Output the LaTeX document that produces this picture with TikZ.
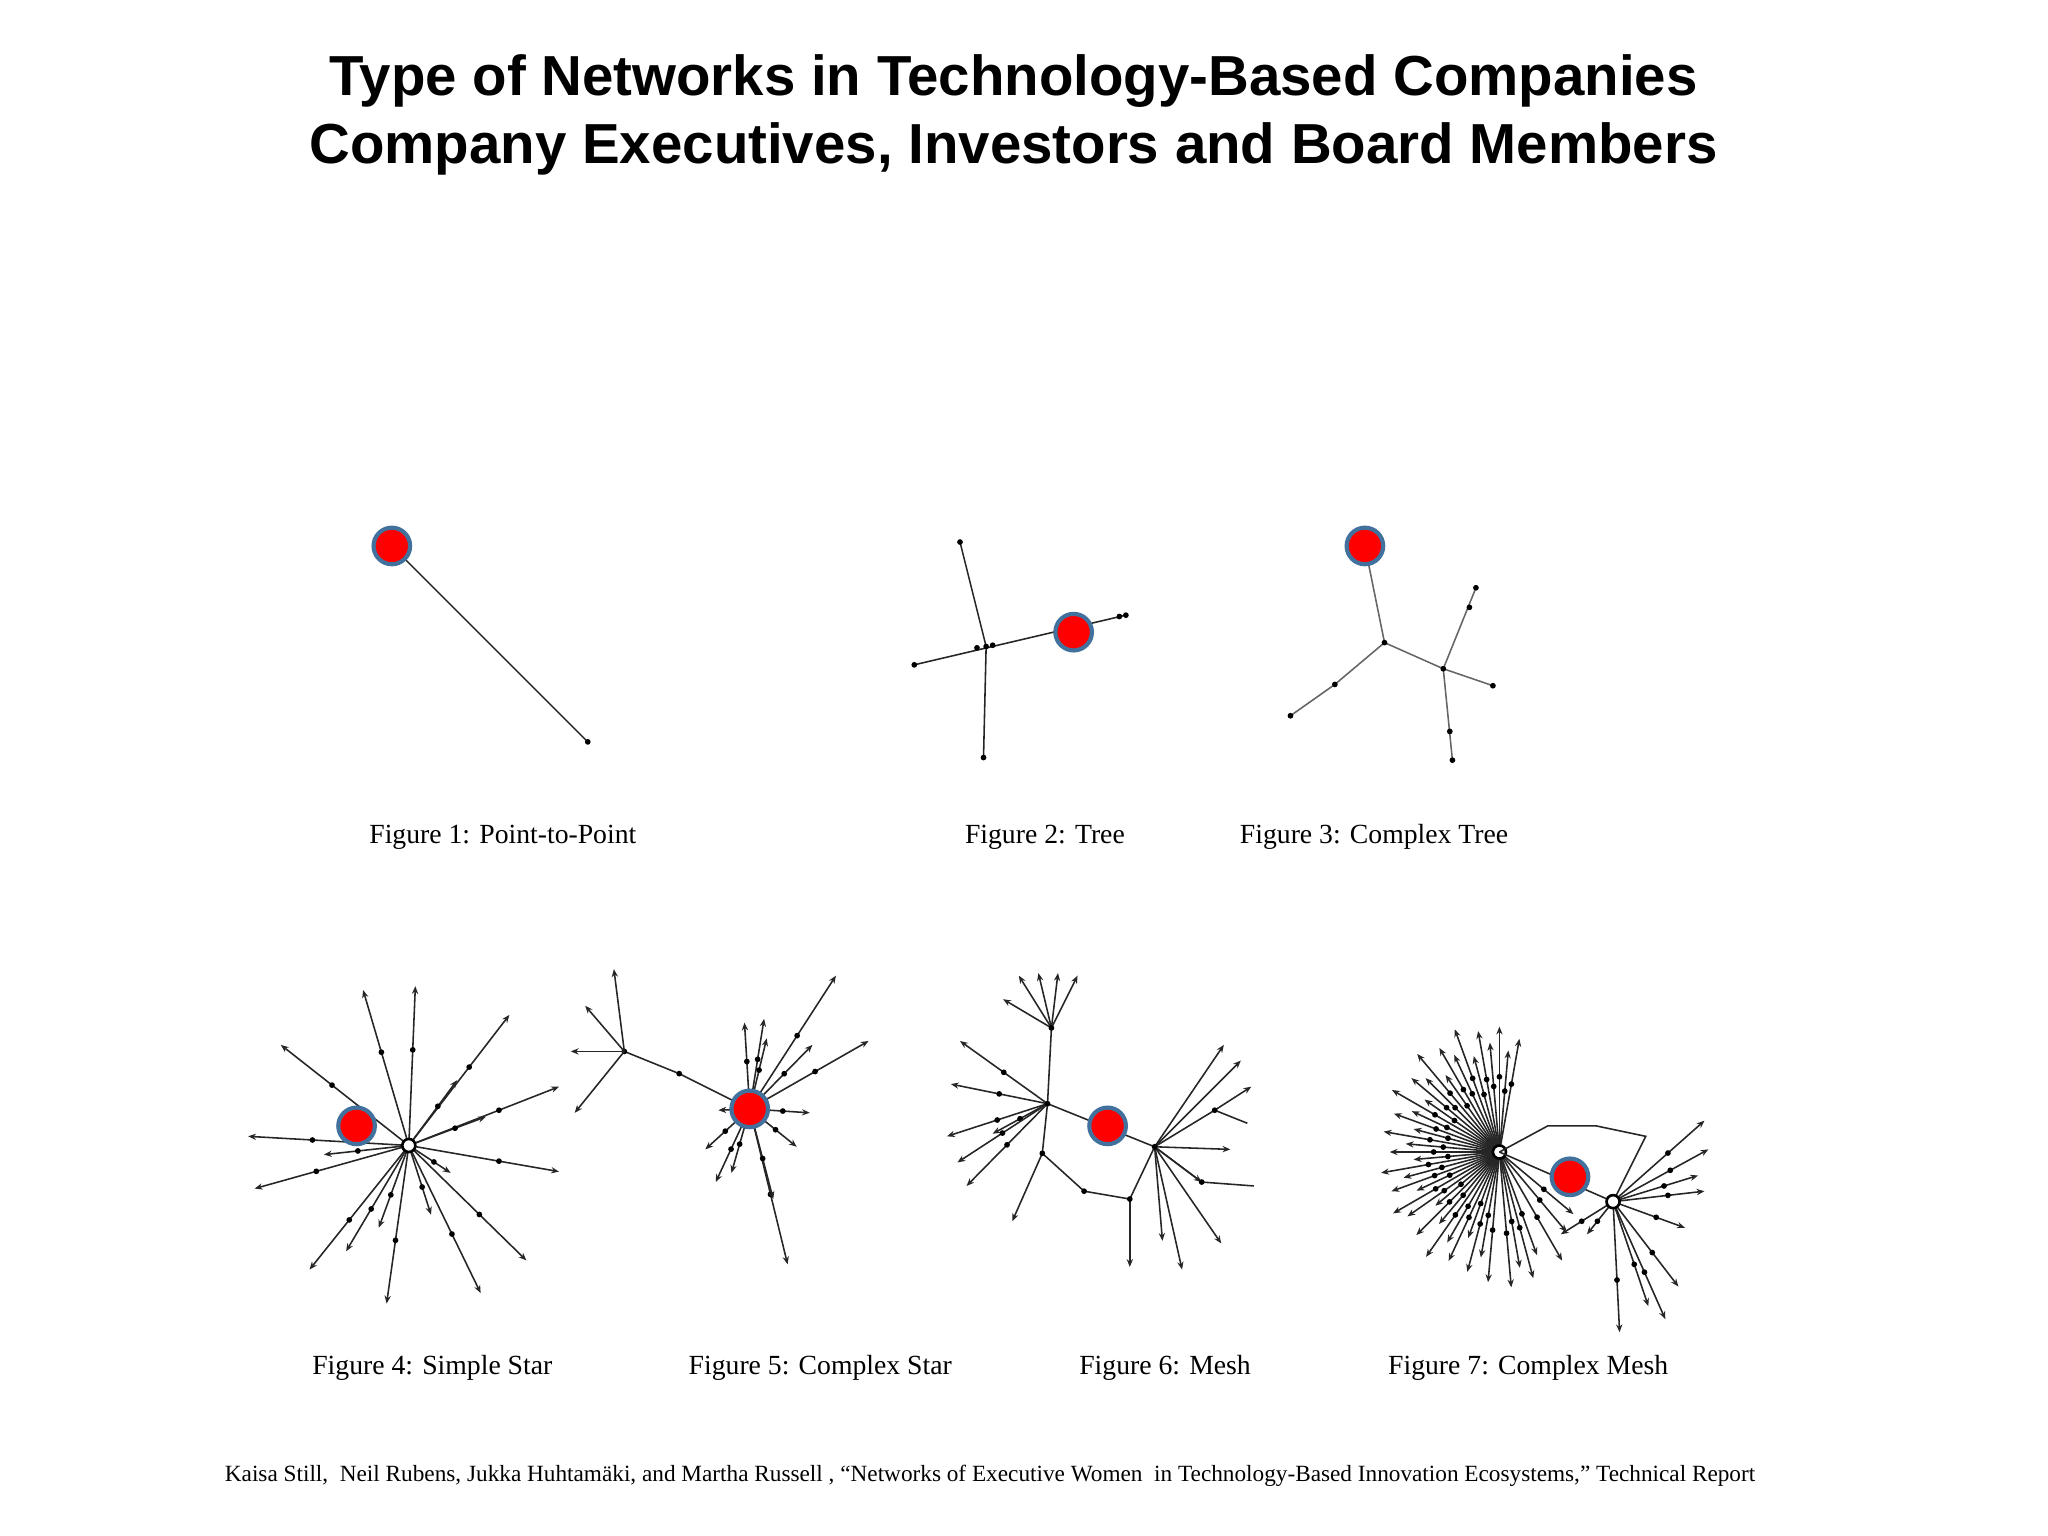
\documentclass[tikz,border=0pt]{standalone}
\usepackage{fontspec}
\usetikzlibrary{calc,arrows.meta}
\setmainfont{Liberation Serif}
\newfontfamily\titlefont{Liberation Sans}
\definecolor{ringblue}{HTML}{41719C}
\begin{document}
\begin{tikzpicture}[x=0.5pt,y=-0.5pt,
  edge/.style={line width=0.6pt,black!85},
  arr/.style={-{Stealth[length=3pt,width=2.4pt]}},
  dot/.style={circle,fill=black,inner sep=0pt,minimum size=2.2pt},
  hubdot/.style={circle,draw=black,line width=1pt,fill=white,inner sep=0pt,minimum size=5pt},
  rednode/.style={circle,fill=red,draw=ringblue,line width=1.6pt,minimum size=14pt,inner sep=0pt},
  figcap/.style={font=\fontsize{10.6}{12}\selectfont}]
\useasboundingbox (0,0) rectangle (1568,1176);
\node[font=\titlefont\bfseries\fontsize{21.6}{26}\selectfont,align=center] (title) at (776,88) {Type of Networks in Technology-Based Companies\\Company Executives, Investors and Board Members};
% Fig 1
\draw[edge] (300,418) -- (450,568); \node[dot] at (450,568) {};
\node[rednode] (r1) at (300,418) {};
% Fig 2
\draw[edge] (700,509) -- (862,471);
\draw[edge] (735,415) -- (755,495) -- (753,580);
\foreach \p in {(700,509),(862,471),(735,415),(753,580),(755,495),(748,496),(760,494),(857,472)} \node[dot] at \p {};
\node[rednode] (r2) at (822,484) {};
% Fig 3
\draw[edge,black!60] (1045,418) -- (1060,492) -- (1022,524) -- (988,548);
\draw[edge,black!60] (1060,492) -- (1105,512) -- (1130,450);
\draw[edge,black!60] (1105,512) -- (1143,525);
\draw[edge,black!60] (1105,512) -- (1112,582);
\foreach \p in {(1060,492),(1022,524),(988,548),(1105,512),(1130,450),(1143,525),(1112,582),(1125,465),(1110,560)} \node[dot] at \p {};
\node[rednode] (r3) at (1045,418) {};
\node[figcap] (c1) at (385,641) {Figure 1: Point-to-Point};
\node[figcap] (c2) at (800,641) {Figure 2: Tree};
\node[figcap] (c3) at (1052,641) {Figure 3: Complex Tree};
% Fig 4
\coordinate (h4) at (313,877);
\foreach \x/\y in {190/870,195/910,215/800,237/972,278/758,318/755,390/777,350/827,428/832,428/897,403/965,368/990,296/998,265/958,290/940,345/898,248/884,372/855,330/930}{
  \draw[edge,arr] (h4) -- (\x,\y); \node[dot] at ($(h4)!0.6!(\x,\y)$) {};}
\node[hubdot] at (h4) {};
\node[rednode] (r4) at (273,862) {};
% Fig 5
\coordinate (h5) at (574,849);
\foreach \x/\y in {603/968,548/905,540/880,550/850,620/852,622/800,640/747,587/795,570/783,665/797,592/918,560/898,610/878,585/780}{
  \draw[edge,arr] (h5) -- (\x,\y); \node[dot] at ($(h5)!0.55!(\x,\y)$) {};}
\draw[edge] (h5) -- (520,822) -- (478,805);
\node[dot] at (520,822) {}; \node[dot] at (478,805) {};
\foreach \x/\y in {470/742,448/770,437/805,440/852}{\draw[edge,arr] (478,805) -- (\x,\y);}
\node[rednode] (r5) at (h5) {};
% Fig 6
\coordinate (a6) at (802,845); \coordinate (b6) at (884,878);
\draw[edge] (a6) -- (805,787);
\foreach \x/\y in {780/747,795/745,810/745,825/747,768/765}{\draw[edge,arr] (805,787) -- (\x,\y);}
\foreach \x/\y in {735/797,728/830,725/870,740/908,760/868,733/890}{\draw[edge,arr] (a6) -- (\x,\y); \node[dot] at ($(a6)!0.5!(\x,\y)$) {};}
\draw[edge] (a6) -- (798,883) -- (830,912) -- (865,918) -- (b6);
\draw[edge,arr] (798,883) -- (775,935);
\draw[edge] (a6) -- (b6);
\draw[edge,arr] (865,918) -- (865,970);
\foreach \x/\y in {905/972,935/952,920/905,890/950,950/812,937/800}{\draw[edge,arr] (b6) -- (\x,\y);}
\draw[edge] (b6) -- (920,905) -- (960,908);
\draw[edge] (b6) -- (930,850) -- (955,860); \draw[edge,arr] (930,850) -- (958,832);
\draw[edge,arr] (b6) -- (942,880);
\foreach \p in {(805,787),(798,883),(830,912),(865,918),(920,905),(930,850),(a6),(b6)} \node[dot] at \p {};
\node[rednode] (r6) at (848,862) {};
% Fig 7
\coordinate (a7) at (1148,882); \coordinate (b7) at (1235,920);
\foreach \a/\r in {95/100,100/82,105/95,110/70,115/92,120/80,125/98,130/72,135/90,140/64,145/86,150/94,155/70,160/88,165/76,170/92,175/66,180/84,185/72,190/90,195/68,200/86,205/74,210/95,215/70,220/88,225/80,230/98,235/72,240/92,245/82,250/100,255/76,260/94,265/84,270/96,275/78,280/88,85/104,80/90,75/100,70/84,60/96,50/80,40/74}{
  \draw[edge,arr] (a7) -- ++(\a:\r); \node[dot] at ($(a7)+(\a:0.6*\r)$) {};}
\node[hubdot] at (a7) {};
\draw[edge] (a7) -- (1185,862) -- (1222,862) -- (1260,870) -- (b7);
\draw[edge] (a7) -- (b7);
\foreach \x/\y in {1305/858,1308/880,1305/912,1290/940,1285/985,1240/1020,1262/1000,1195/945,1215/945,1275/1010,1300/900}{
  \draw[edge,arr] (b7) -- (\x,\y); \node[dot] at ($(b7)!0.6!(\x,\y)$) {};}
\node[hubdot] at (b7) {};
\node[rednode] (r7) at (1202,901) {};
\node[figcap] (c4) at (331,1047) {Figure 4: Simple Star};
\node[figcap] (c5) at (628,1047) {Figure 5: Complex Star};
\node[figcap] (c6) at (892,1047) {Figure 6: Mesh};
\node[figcap] (c7) at (1170,1047) {Figure 7: Complex Mesh};
\node[font=\fontsize{8.9}{10}\selectfont] (ref) at (758,1130) {Kaisa Still,\ \ Neil Rubens, Jukka Huhtamäki, and Martha Russell , “Networks of Executive Women\ \ in Technology-Based Innovation Ecosystems,” Technical Report};
\end{tikzpicture}
\end{document}
